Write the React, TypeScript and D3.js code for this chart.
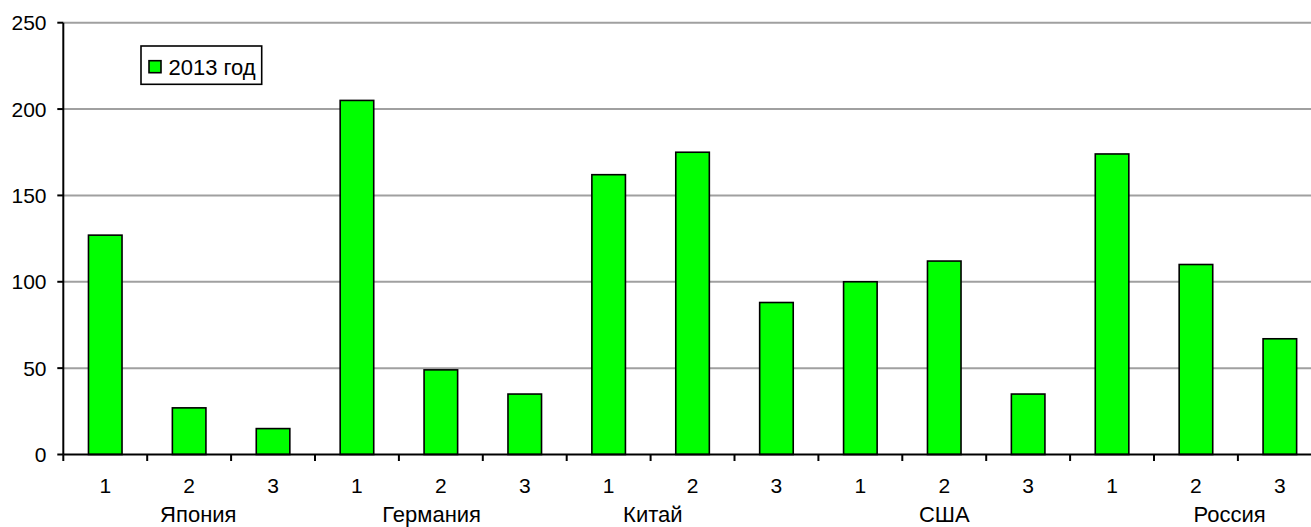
import React from "react";
import * as d3 from "d3";

// group labels as typed in the source sheet (with their padding spaces)
const groups: string[] = ["   Япония", "Германия   ", "Китай             ", "США", "           Россия"];
const subLabels: string[] = ["1", "2", "3"];
const seriesName = "2013 год";
const values: number[] = [127, 27, 15, 205, 49, 35, 162, 175, 88, 100, 112, 35, 174, 110, 67];
const yTicks: number[] = [0, 50, 100, 150, 200, 250];

const W = 1311;
const H = 527;
const FONT = "'Liberation Sans', Arial, sans-serif";

export default function App() {
  const keys = values.map((_, i) => String(i));
  const x0 = 63.3;
  const x1 = 1321.8;
  const slot = d3.scaleBand<string>().domain(keys).range([x0, x1]).padding(0);
  const bar = d3.scaleBand<string>().domain(keys).range([x0, x1]).paddingInner(0.6).paddingOuter(0.3);
  const y = d3.scaleLinear().domain([0, 250]).range([454.5, 22.7]);
  const step = slot.step();
  const boundaries = d3.range(keys.length + 1).map((i) => x0 + i * step);

  return (
    <svg
      width={W}
      height={H}
      style={{ position: "absolute", left: 0, top: 0, overflow: "hidden", background: "#fff" }}
      fontFamily={FONT}
    >
      <rect x={0} y={0} width={W} height={H} fill="#fff" />
      {/* gridlines */}
      {yTicks.filter((t) => t > 0).map((t) => (
        <line key={"g" + t} x1={x0} x2={x1} y1={y(t)} y2={y(t)} stroke="#a0a0a0" strokeWidth={2} />
      ))}
      {/* bars */}
      {values.map((v, i) => (
        <rect
          key={"b" + i}
          x={bar(String(i))}
          y={y(v)}
          width={bar.bandwidth()}
          height={y(0) - y(v)}
          fill="#00ff00"
          stroke="#000"
          strokeWidth={1.6}
        />
      ))}
      {/* y axis */}
      <line x1={x0} x2={x0} y1={y(250)} y2={y(0)} stroke="#000" strokeWidth={2} />
      {yTicks.map((t) => (
        <g key={"yt" + t}>
          <line x1={x0 - 6} x2={x0} y1={y(t)} y2={y(t)} stroke="#000" strokeWidth={2} />
          <text x={46.5} y={y(t)} dy="0.36em" textAnchor="end" fontSize={21} fill="#000">
            {t}
          </text>
        </g>
      ))}
      {/* x axis */}
      <line x1={x0} x2={x1} y1={y(0)} y2={y(0)} stroke="#000" strokeWidth={2} />
      {boundaries.map((bx, i) => (
        <line key={"xt" + i} x1={bx} x2={bx} y1={y(0)} y2={y(0) + 6.5} stroke="#000" strokeWidth={2} />
      ))}
      {keys.map((k, i) => (
        <text
          key={"xl" + i}
          x={(slot(k) as number) + step / 2}
          y={492.8}
          textAnchor="middle"
          fontSize={21}
          fill="#000"
        >
          {subLabels[i % subLabels.length]}
        </text>
      ))}
      {groups.map((g, gi) => {
        const mid = keys[gi * subLabels.length + 1];
        return (
          <text
            key={"gl" + gi}
            x={(slot(mid) as number) + step / 2}
            y={522}
            textAnchor="middle"
            fontSize={22}
            fill="#000"
            style={{ whiteSpace: "pre" }}
          >
            {g}
          </text>
        );
      })}
      {/* legend */}
      <rect x={141} y={46} width={120.7} height={38.3} fill="#fff" stroke="#000" strokeWidth={1.6} />
      <rect x={149} y={60.7} width={12} height={12} fill="#00ff00" stroke="#000" strokeWidth={1.6} />
      <text x={168.5} y={66.7} dy="0.36em" fontSize={22} fill="#000">
        {seriesName}
      </text>
    </svg>
  );
}
